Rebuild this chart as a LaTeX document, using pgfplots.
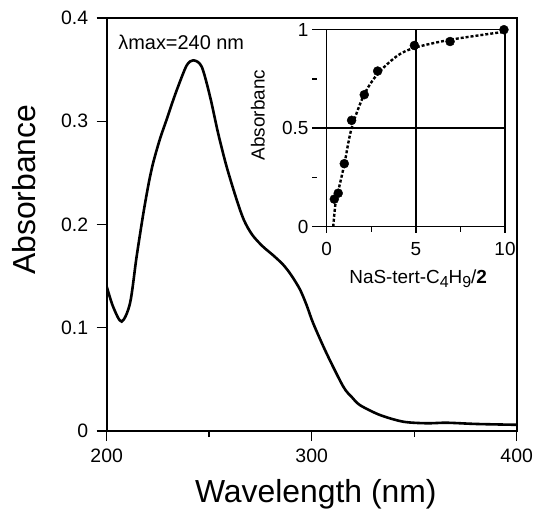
\documentclass[border=0pt]{standalone}
\usepackage{fontspec}
\setmainfont{Liberation Sans}
\usepackage{pgfplots}
\pgfplotsset{compat=1.18}

\pgfplotstableread{
x y
200.0 0.140
203.2 0.120
207.3 0.106
211.4 0.124
214.6 0.169
217.9 0.211
220.5 0.240
222.7 0.260
226.0 0.283
229.3 0.302
232.0 0.318
234.9 0.334
239.0 0.354
242.2 0.359
246.3 0.353
250.4 0.324
254.4 0.288
258.5 0.256
263.4 0.224
267.0 0.204
271.0 0.190
276.0 0.179
281.3 0.170
286.1 0.161
290.0 0.151
294.3 0.137
297.5 0.122
300.8 0.104
307.3 0.075
315.4 0.043
319.5 0.033
323.6 0.025
333.3 0.0155
344.7 0.009
356.1 0.0075
365.9 0.008
380.5 0.0068
400.0 0.006
}\spectrum

\pgfplotstableread{
x y
0.43 0.14
0.65 0.17
0.99 0.32
1.40 0.54
2.11 0.67
2.86 0.79
4.92 0.92
6.92 0.94
9.94 1.00
}\titration

\pgfplotstableread{
x y
0.37 0.00
0.50 0.12
0.70 0.20
1.00 0.32
1.40 0.50
2.10 0.67
2.90 0.78
4.00 0.87
5.00 0.91
7.00 0.95
10.0 0.99
}\fit

\begin{document}
\begin{tikzpicture}
\useasboundingbox (-106.7bp,-81bp) rectangle (429.3bp,431bp);
\begin{axis}[
  at={(0,0)}, anchor=south west,
  scale only axis, width=410bp, height=413bp,
  xmin=200, xmax=400, ymin=0, ymax=0.4,
  xtick={200,300,400}, minor xtick={250,350},
  ytick={0,0.1,0.2,0.3,0.4},
  yticklabels={0,0.1,0.2,0.3,0.4},
  tick align=outside,
  major tick length=10bp, minor tick length=6bp,
  tick style={black, line width=1.4bp},
  axis line style={line width=2bp},
  xtick pos=bottom, ytick pos=left,
  /pgf/number format/assume math mode=true,
  ticklabel style={font=\fontsize{19.5}{21}\selectfont},
  xticklabel style={yshift=-4bp},
  yticklabel style={xshift=-5bp},
  xlabel={Wavelength (nm)},
  ylabel={Absorbance},
  label style={font=\fontsize{32}{36}\selectfont},
  xlabel style={at={(axis description cs:0.51,0)}, anchor=base, yshift=-71bp},
  ylabel style={at={(axis description cs:-0.2024,0.584)}, anchor=center},
]
\addplot[black, line width=2.6bp, smooth] table[x=x, y=y] {\spectrum};
\node[anchor=west, font=\fontsize{20}{22}\selectfont, inner sep=0pt]
  at (rel axis cs:0.028,0.942) {λmax=240 nm};
\end{axis}

\begin{axis}[
  at={(205.3bp,204.3bp)}, anchor=south west,
  scale only axis, width=193bp, height=197bp,
  xmin=-0.82, xmax=10, ymin=0, ymax=1,
  axis lines*=left, axis line style={draw=none},
  xtick={0,5,10}, minor xtick={2.5,7.5},
  ytick={0,0.5,1}, minor ytick={0.25,0.75},
  yticklabels={0,0.5,1},
  xtick align=outside, ytick align=inside,
  major tick length=6bp, minor tick length=5bp,
  tick style={black, line width=1.4bp},
  grid=major, major grid style={black, line width=1.6bp},
  /pgf/number format/assume math mode=true,
  ticklabel style={font=\fontsize{19}{21}\selectfont},
  xticklabel style={yshift=-6bp},
  xlabel={NaS-tert-C\raisebox{-0.45ex}{\fontsize{16}{16}\selectfont 4}H\raisebox{-0.45ex}{\fontsize{16}{16}\selectfont 9}/\textbf{2}},
  ylabel={Absorbanc},
  label style={font=\fontsize{19}{21}\selectfont},
  xlabel style={at={(axis description cs:0.55,-0.286)}, anchor=base},
  ylabel style={at={(axis description cs:-0.28,0.567)}, anchor=center},
]
\addplot[black, line width=2.4bp, densely dashed, smooth] table[x=x, y=y] {\fit};
\addplot[only marks, mark=*, mark size=4.5bp, black] table[x=x, y=y] {\titration};
\end{axis}
\end{tikzpicture}
\end{document}
